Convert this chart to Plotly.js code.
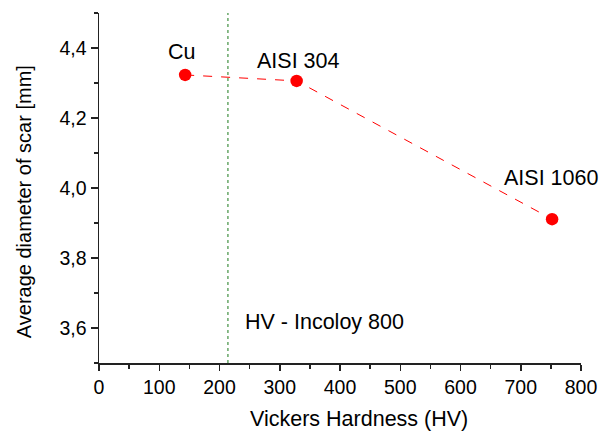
<!DOCTYPE html>
<html>
<head>
<meta charset="utf-8">
<script src="https://cdn.plot.ly/plotly-3.0.1.min.js"></script>
<style>html,body{margin:0;padding:0;background:#fff}#chart{width:600px;height:435px}</style>
</head>
<body>
<div id="chart"></div>
<script>
const materials = ["Cu", "AISI 304", "AISI 1060"];
const hardness = [143, 328, 752];
const scarDiameter = [4.323, 4.306, 3.911];
const incoloyHV = 214;
const incoloyLabel = "HV - Incoloy 800";
const xTitle = "Vickers Hardness (HV)";
const yTitle = "Average diameter of scar [mm]";

// label positions (data coordinates)
const labelX = [137.6, 330.8, 750.3];
const labelY = [4.389, 4.364, 4.030];

const font = "Liberation Sans, Arial, sans-serif";
const txt = (s) => ({family: font, size: s, color: "#000"});

const traces = [
  {
    x: hardness, y: scarDiameter, type: "scatter", mode: "lines+markers",
    line: {color: "#ff0000", width: 1, dash: "dash"},
    marker: {color: "#ff0000", size: 12.5},
    showlegend: false, hoverinfo: "x+y"
  },
  {
    x: [incoloyHV, incoloyHV], y: [3.5, 4.5], type: "scatter", mode: "lines",
    line: {color: "#1a7a1a", width: 1, dash: "dot"},
    showlegend: false, hoverinfo: "skip"
  }
];

const annotations = materials.map((m, i) => ({
  x: labelX[i], y: labelY[i], xref: "x", yref: "y",
  text: m, showarrow: false, xanchor: "center", yanchor: "middle",
  font: txt(21.5)
}));
annotations.push({
  x: 238.4, y: 3.617, xref: "x", yref: "y", text: incoloyLabel,
  showarrow: false, xanchor: "left", yanchor: "middle", font: txt(21.5)
});
annotations.push({
  x: 0.539, y: -0.161, xref: "paper", yref: "paper", text: xTitle,
  showarrow: false, xanchor: "center", yanchor: "middle", font: txt(21.5)
});
annotations.push({
  x: -0.1565, y: 0.461, xref: "paper", yref: "paper", text: yTitle, textangle: -90,
  showarrow: false, xanchor: "center", yanchor: "middle", font: txt(20)
});

const layout = {
  width: 600, height: 435,
  margin: {l: 98.5, r: 19, t: 13.3, b: 72.3},
  paper_bgcolor: "#fff", plot_bgcolor: "#fff",
  separators: ",.",
  showlegend: false,
  font: txt(19.5),
  xaxis: {
    range: [0, 800], tickmode: "linear", tick0: 0, dtick: 100,
    ticks: "outside", ticklen: 6, tickwidth: 1.5, tickcolor: "#222",
    showline: true, linecolor: "#222", linewidth: 1.5, showgrid: false, zeroline: false,
    minor: {dtick: 50, ticks: "outside", ticklen: 4, tickwidth: 1.5, tickcolor: "#222", showgrid: false},
    tickfont: txt(19.5)
  },
  yaxis: {
    range: [3.5, 4.5], tickmode: "linear", tick0: 3.6, dtick: 0.2, tickformat: ".1f",
    ticks: "outside", ticklen: 7, tickwidth: 1.5, tickcolor: "#222",
    showline: true, linecolor: "#222", linewidth: 1.5, showgrid: false, zeroline: false,
    minor: {dtick: 0.1, ticks: "outside", ticklen: 4, tickwidth: 1.5, tickcolor: "#222", showgrid: false},
    tickfont: txt(19.5)
  },
  annotations: annotations
};

Plotly.newPlot("chart", traces, layout, {staticPlot: true, displayModeBar: false});
</script>
</body>
</html>
